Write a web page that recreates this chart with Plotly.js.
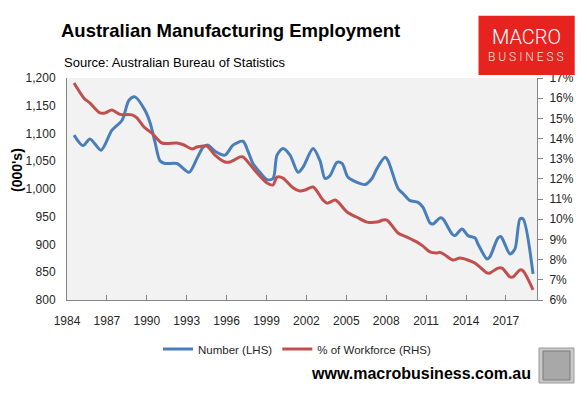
<!DOCTYPE html>
<html>
<head>
<meta charset="utf-8">
<script src="https://cdn.plot.ly/plotly-3.0.1.min.js"></script>
<style>
html, body { margin: 0; padding: 0; background: #ffffff; }
#chart { width: 587px; height: 399px; }
</style>
</head>
<body>
<div id="chart"></div>
<script>
// ---- Data ----
const numberYears = [1984.53, 1985.20, 1985.73, 1986.56, 1987.38, 1988.14, 1988.66, 1989.11, 1989.86, 1990.24,
  1990.62, 1990.99, 1991.37, 1992.27, 1993.17, 1993.77, 1994.23, 1994.60, 1995.13, 1995.88,
  1996.48, 1997.23, 1997.61, 1997.98, 1998.51, 1999.04, 1999.49, 1999.79, 2000.24, 2000.77,
  2001.37, 2001.74, 2002.50, 2003.02, 2003.40, 2003.77, 2004.30, 2004.68, 2005.13, 2005.80,
  2006.41, 2006.93, 2007.31, 2007.91, 2008.14, 2008.89, 2009.26, 2009.79, 2010.39, 2010.77,
  2011.29, 2011.52, 2012.05, 2012.27, 2012.95, 2013.17, 2013.70, 2014.15, 2014.68, 2014.90,
  2015.58, 2015.80, 2016.41, 2016.63, 2017.31, 2017.68, 2018.06, 2018.29, 2019.04];
const numberValues = [1097, 1078, 1090, 1070, 1106, 1124, 1160, 1166, 1142, 1120,
  1084, 1051, 1046, 1046, 1030, 1055, 1075, 1079, 1068, 1061,
  1079, 1086, 1068, 1046, 1030, 1017, 1019, 1061, 1073, 1061,
  1030, 1039, 1073, 1051, 1019, 1024, 1048, 1046, 1021, 1012,
  1008, 1019, 1037, 1057, 1051, 1001, 992, 979, 976, 967,
  939, 937, 948, 946, 919, 916, 928, 916, 912, 901,
  874, 878, 912, 914, 883, 892, 946, 946, 847];

const pctYears = [1984.53, 1985.28, 1985.73, 1986.48, 1986.86, 1987.38, 1987.98, 1988.89, 1989.26, 1989.79,
  1990.39, 1991.14, 1992.27, 1992.80, 1993.40, 1993.77, 1994.23, 1994.53, 1995.13, 1995.88,
  1996.26, 1997.01, 1997.23, 1998.29, 1999.04, 1999.49, 1999.79, 2000.24, 2000.92, 2001.52,
  2001.89, 2002.50, 2003.25, 2003.55, 2004.15, 2004.38, 2005.05, 2005.80, 2006.56, 2007.31,
  2007.76, 2008.06, 2008.89, 2009.56, 2010.32, 2010.77, 2011.29, 2011.82, 2012.05, 2012.42,
  2013.02, 2013.55, 2014.68, 2015.05, 2015.58, 2015.80, 2016.41, 2016.71, 2017.31, 2017.53,
  2018.06, 2018.29, 2019.04];
const pctValues = [16.75, 16.0, 15.76, 15.27, 15.27, 15.41, 15.2, 15.17, 15.02, 14.57,
  14.27, 13.78, 13.78, 13.68, 13.48, 13.58, 13.63, 13.63, 13.18, 12.84,
  12.84, 13.09, 13.09, 12.29, 11.8, 11.7, 12.09, 12.04, 11.6, 11.4,
  11.45, 11.6, 10.95, 10.8, 10.95, 10.86, 10.36, 10.1, 9.86, 9.86,
  9.96, 9.96, 9.32, 9.12, 8.87, 8.67, 8.38, 8.33, 8.36, 8.23,
  7.98, 8.08, 7.83, 7.63, 7.34, 7.34, 7.58, 7.58, 7.14, 7.14,
  7.49, 7.44, 6.5];

const xTickYears = [1984, 1987, 1990, 1993, 1996, 1999, 2002, 2005, 2008, 2011, 2014, 2017];
const xTickLabels = ['1984', '1987', '1990', '1993', '1996', '1999', '2002', '2005', '2008', '2011', '2014', '2017'];
const seriesNames = ['Number (LHS)', '% of Workforce (RHS)'];

// ---- Chart ----
const FONT = 'Liberation Sans, Arial, sans-serif';
const AXIS_GREY = '#868686';

const traces = [
  {
    x: numberYears, y: numberValues, name: seriesNames[0], type: 'scatter', mode: 'lines',
    line: { color: '#4a7ebb', width: 3, shape: 'spline', smoothing: 0.8 },
    yaxis: 'y', hoverinfo: 'skip'
  },
  {
    x: pctYears, y: pctValues, name: seriesNames[1], type: 'scatter', mode: 'lines',
    line: { color: '#c0504d', width: 3, shape: 'spline', smoothing: 0.8 },
    yaxis: 'y2', hoverinfo: 'skip'
  }
];

const layout = {
  width: 587, height: 399,
  margin: { l: 67, r: 50, t: 78, b: 99, pad: 0 },
  paper_bgcolor: '#ffffff',
  plot_bgcolor: '#f2f2f2',
  font: { family: FONT, size: 12, color: '#262626' },
  showlegend: true,
  title: {
    text: '<b>Australian Manufacturing Employment</b>',
    font: { family: FONT, size: 18.5, color: '#000000' },
    xref: 'container', yref: 'container',
    x: 61 / 587, xanchor: 'left',
    y: 1 - 30.5 / 399, yanchor: 'middle'
  },
  xaxis: {
    range: [1984, 1984 + 470 / 13.3],
    tickmode: 'array', tickvals: xTickYears, ticktext: xTickLabels,
    ticks: 'inside', ticklen: 5, tickcolor: AXIS_GREY, tickwidth: 1,
    showline: true, linecolor: AXIS_GREY, linewidth: 1,
    showgrid: false, zeroline: false,
    ticklabelstandoff: 10,
    tickfont: { family: FONT, size: 12, color: '#262626' },
    fixedrange: true
  },
  yaxis: {
    range: [800, 1200], dtick: 50, tick0: 800, tickformat: ',d',
    ticks: '', showline: true, linecolor: AXIS_GREY, linewidth: 1,
    showgrid: false, zeroline: false,
    ticklabelstandoff: 8,
    tickfont: { family: FONT, size: 12, color: '#262626' },
    fixedrange: true
  },
  yaxis2: {
    overlaying: 'y', side: 'right',
    range: [6, 17], dtick: 1, tick0: 6, ticksuffix: '%',
    ticks: 'outside', ticklen: 5, tickcolor: AXIS_GREY, tickwidth: 1,
    showline: true, linecolor: AXIS_GREY, linewidth: 1,
    showgrid: false, zeroline: false,
    ticklabelstandoff: 4,
    tickfont: { family: FONT, size: 12, color: '#262626' },
    fixedrange: true
  },
  legend: {
    orientation: 'h',
    x: (158 - 67) / 470, xanchor: 'left',
    y: (300 - 349) / 222, yanchor: 'middle',
    bgcolor: 'rgba(0,0,0,0)', borderwidth: 0,
    font: { family: FONT, size: 11.5, color: '#262626' },
    itemwidth: 30
  },
  shapes: [
    // MacroBusiness logo box
    { type: 'rect', xref: 'paper', yref: 'paper',
      x0: (478.5 - 67) / 470, x1: (574.7 - 67) / 470,
      y0: (300 - 74.9) / 222, y1: (300 - 15.7) / 222,
      fillcolor: '#e6231f', line: { width: 0 } },
    // wolf picture placeholder frame
    { type: 'rect', xref: 'paper', yref: 'paper',
      x0: (539 - 67) / 470, x1: (574 - 67) / 470,
      y0: (300 - 383) / 222, y1: (300 - 348) / 222,
      fillcolor: '#c9c9c9', line: { color: '#9a9a9a', width: 1 } },
    { type: 'rect', xref: 'paper', yref: 'paper',
      x0: (543 - 67) / 470, x1: (570 - 67) / 470,
      y0: (300 - 380) / 222, y1: (300 - 351) / 222,
      fillcolor: '#a8a8a8', line: { color: '#7a7a7a', width: 1 } }
  ],
  annotations: [
    { text: 'Source: Australian Bureau of Statistics', xref: 'paper', yref: 'paper',
      x: (62 - 67) / 470, xanchor: 'left', y: (300 - 62) / 222, yanchor: 'middle',
      showarrow: false, font: { family: FONT, size: 13, color: '#000000' } },
    { text: "<b>(000's)</b>", xref: 'paper', yref: 'paper',
      x: (17 - 67) / 470, xanchor: 'center', y: (300 - 170) / 222, yanchor: 'middle',
      textangle: -90, showarrow: false, font: { family: FONT, size: 14, color: '#000000' } },
    { text: 'MACRO', xref: 'paper', yref: 'paper',
      x: (526 - 67) / 470, xanchor: 'center', y: (300 - 37.5) / 222, yanchor: 'middle',
      showarrow: false, font: { family: 'Roboto, sans-serif', size: 20, color: '#ffffff', weight: 300 } },
    { text: 'B U S I N E S S', xref: 'paper', yref: 'paper',
      x: (526 - 67) / 470, xanchor: 'center', y: (300 - 56.5) / 222, yanchor: 'middle',
      showarrow: false, font: { family: 'Roboto, sans-serif', size: 12, color: '#fbe0df', weight: 300 } },
    { text: '<b>www.macrobusiness.com.au</b>', xref: 'paper', yref: 'paper',
      x: (533 - 67) / 470, xanchor: 'right', y: (300 - 373) / 222, yanchor: 'middle',
      showarrow: false, font: { family: FONT, size: 16, color: '#000000' } }
  ]
};

Plotly.newPlot('chart', traces, layout, { displayModeBar: false, staticPlot: true });
</script>
</body>
</html>
